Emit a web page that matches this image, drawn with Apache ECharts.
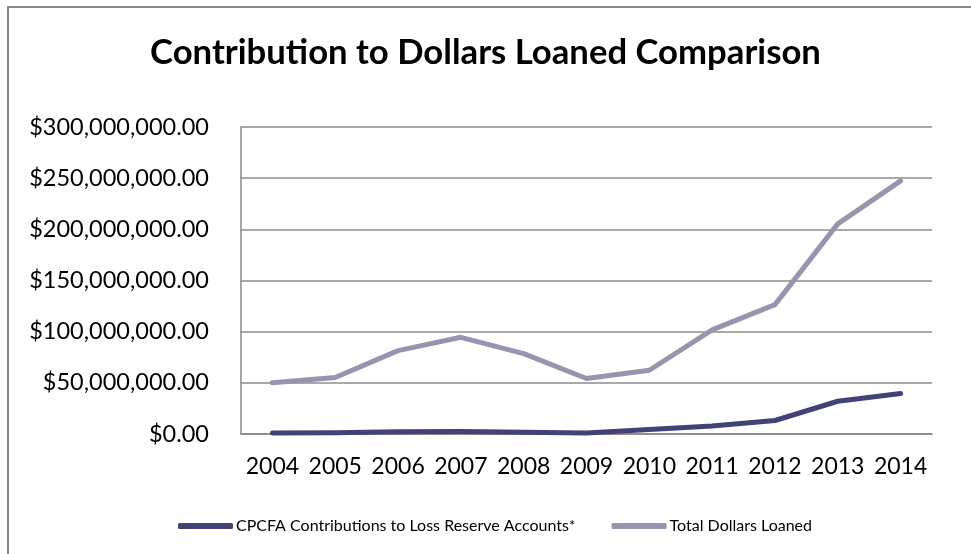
<!DOCTYPE html>
<html>
<head>
<meta charset="utf-8">
<script src="https://cdn.jsdelivr.net/npm/echarts@6/dist/echarts.min.js"></script>
<style>
html,body{margin:0;padding:0;background:#fff;}
#chart{width:971px;height:554px;}
</style>
</head>
<body>
<div id="chart"></div>
<script>
const titleText = 'Contribution to Dollars Loaned Comparison';
const years = ['2004','2005','2006','2007','2008','2009','2010','2011','2012','2013','2014'];
const seriesNames = ['CPCFA Contributions to Loss Reserve Accounts*', 'Total Dollars Loaned'];
const contributions = [1000000, 1300000, 2300000, 2500000, 1700000, 1000000, 4300000, 7900000, 13200000, 32000000, 39500000];
const totalLoaned = [50000000, 55200000, 81500000, 94500000, 78500000, 54200000, 62300000, 101800000, 126400000, 205300000, 247400000];
const yMin = 0, yMax = 300000000, yStep = 50000000;

const FONT = 'Lato, "Open Sans", sans-serif';
const chart = echarts.init(document.getElementById('chart'), null, {renderer:'canvas'});

function fmt(v){
  return '$' + v.toLocaleString('en-US', {minimumFractionDigits:2, maximumFractionDigits:2});
}

chart.setOption({
  animation:false,
  backgroundColor:'#fff',
  title:{
    text:titleText, left:'center', top:30,
    textStyle:{fontFamily:FONT, fontSize:34.7, fontWeight:'bold', color:'#000'}
  },
  graphic:[{
    type:'rect', shape:{x:8, y:7, width:1000, height:600},
    style:{fill:null, stroke:'#868686', lineWidth:2}, silent:true
  }],
  legend:{
    top:513, left:173, itemGap:36, itemWidth:55, itemHeight:6,
    icon:'roundRect',
    textStyle:{fontFamily:FONT, fontSize:16, color:'#000', padding:[0,0,0,-2]},
    data:seriesNames
  },
  grid:{left:241, right:39, top:127, bottom:120, containLabel:false},
  xAxis:{
    type:'category', data:years, boundaryGap:true,
    axisLine:{show:true, lineStyle:{color:'#868686', width:1.5}},
    axisTick:{show:false},
    axisLabel:{fontFamily:FONT, fontSize:23, color:'#000', margin:21, interval:0, hideOverlap:false}
  },
  yAxis:{
    type:'value', min:yMin, max:yMax, interval:yStep,
    axisLine:{show:true, lineStyle:{color:'#868686', width:1.5}},
    axisTick:{show:false},
    splitLine:{lineStyle:{color:'#8c8c8c', width:1.5}},
    axisLabel:{fontFamily:FONT, fontSize:23.5, color:'#000', margin:32, formatter:fmt}
  },
  series:[
    {name:seriesNames[0], type:'line', data:contributions, symbol:'none',
     itemStyle:{color:'#424277'}, lineStyle:{color:'#424277', width:5, cap:'round', join:'round'}},
    {name:seriesNames[1], type:'line', data:totalLoaned, symbol:'none',
     itemStyle:{color:'#9695B0'}, lineStyle:{color:'#9695B0', width:5, cap:'round', join:'round'}}
  ]
});
</script>
</body>
</html>
